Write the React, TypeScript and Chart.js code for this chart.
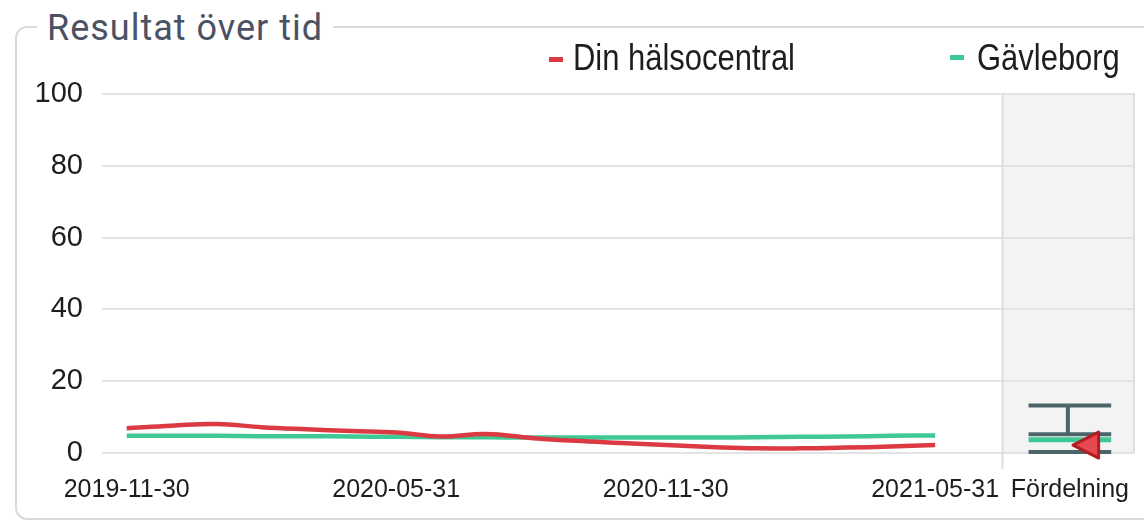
import React, { useEffect, useRef } from 'react';
import { Chart, registerables } from 'chart.js';

Chart.register(...registerables);

// Monthly points, index 0 = 2019-11-30 ... 18 = 2021-05-31
const monthIndex = [0, 1, 2, 3, 4, 5, 6, 7, 8, 9, 10, 11, 12, 13, 14, 15, 16, 17, 18];
const dinHalsocentral = [6.9, 7.6, 8.1, 7.2, 6.6, 6.1, 5.7, 4.6, 5.3, 4.2, 3.4, 2.8, 2.2, 1.7, 1.3, 1.3, 1.5, 1.8, 2.2];
const gavleborg = [4.8, 4.8, 4.8, 4.7, 4.7, 4.6, 4.5, 4.4, 4.4, 4.3, 4.3, 4.3, 4.3, 4.3, 4.4, 4.5, 4.6, 4.8, 4.9];

const xTickValues = [0, 6, 12, 18, 21];
const xTickLabels = ['2019-11-30', '2020-05-31', '2020-11-30', '2021-05-31', 'Fördelning'];
const yTickValues = [0, 20, 40, 60, 80, 100];

// Fördelning (distribution) column
const fordelningPos = 21;
const separatorPos = 19.5;
const fordelningMax = [13.2];
const fordelningQ3 = [5.2];
const fordelningMid = [3.7];
const fordelningMin = [0.3];

const RED = '#dc3a42';
const GREEN = '#3ec893';
const DARK = '#4a6669';

const distPlugin = {
  id: 'distPlugin',
  beforeDraw(chart: any) {
    const { ctx, chartArea, scales } = chart;
    const xs = scales.x;
    const sx = xs.getPixelForValue(separatorPos);
    ctx.save();
    ctx.fillStyle = '#f3f3f3';
    ctx.fillRect(sx, chartArea.top, chartArea.right - sx, chartArea.bottom - chartArea.top);
    ctx.restore();
  },
  afterDraw(chart: any) {
    const { ctx, chartArea, scales } = chart;
    const xs = scales.x;
    const ys = scales.y;
    const sx = xs.getPixelForValue(separatorPos);
    ctx.save();
    ctx.strokeStyle = '#dedede';
    ctx.lineWidth = 2;
    ctx.beginPath();
    ctx.moveTo(sx, chartArea.top);
    ctx.lineTo(sx, chartArea.bottom + 16);
    ctx.moveTo(chartArea.right - 1, chartArea.top);
    ctx.lineTo(chartArea.right - 1, chartArea.bottom);
    ctx.stroke();

    const half = 0.92;
    const xl = xs.getPixelForValue(fordelningPos - half);
    const xr = xs.getPixelForValue(fordelningPos + half);
    const xc = xs.getPixelForValue(fordelningPos) - 2;

    // median / region line
    ctx.strokeStyle = GREEN;
    ctx.lineWidth = 5;
    ctx.beginPath();
    ctx.moveTo(xl, ys.getPixelForValue(fordelningMid[0]));
    ctx.lineTo(xr, ys.getPixelForValue(fordelningMid[0]));
    ctx.stroke();

    ctx.strokeStyle = DARK;
    ctx.lineWidth = 4;
    ctx.beginPath();
    [fordelningMax[0], fordelningQ3[0], fordelningMin[0]].forEach((v) => {
      const y = ys.getPixelForValue(v);
      ctx.moveTo(xl, y);
      ctx.lineTo(xr, y);
    });
    ctx.moveTo(xc, ys.getPixelForValue(fordelningMax[0]));
    ctx.lineTo(xc, ys.getPixelForValue(fordelningQ3[0]));
    ctx.stroke();

    // current value marker (left-pointing triangle)
    const v = dinHalsocentral[dinHalsocentral.length - 1];
    const ty = ys.getPixelForValue(v);
    const tipX = xs.getPixelForValue(fordelningPos + 0.07);
    const baseX = xs.getPixelForValue(fordelningPos + 0.64);
    ctx.fillStyle = '#e54a50';
    ctx.strokeStyle = '#b51c22';
    ctx.lineWidth = 3;
    ctx.lineJoin = 'round';
    ctx.beginPath();
    ctx.moveTo(tipX, ty);
    ctx.lineTo(baseX, ty - 13);
    ctx.lineTo(baseX, ty + 13);
    ctx.closePath();
    ctx.fill();
    ctx.stroke();
    ctx.restore();
  },
};

export default function App() {
  const canvasRef = useRef<HTMLCanvasElement | null>(null);

  useEffect(() => {
    document.body.style.margin = '0';
    const canvas = canvasRef.current;
    if (!canvas) return;
    const chart = new Chart(canvas, {
      type: 'line',
      data: {
        datasets: [
          {
            label: 'Din hälsocentral',
            data: monthIndex.map((m, i) => ({ x: m, y: dinHalsocentral[i] })),
            borderColor: RED,
            backgroundColor: RED,
            borderWidth: 4.5,
            pointRadius: 0,
            tension: 0.4,
          },
          {
            label: 'Gävleborg',
            data: monthIndex.map((m, i) => ({ x: m, y: gavleborg[i] })),
            borderColor: GREEN,
            backgroundColor: GREEN,
            borderWidth: 4.5,
            pointRadius: 0,
            tension: 0.4,
          },
        ],
      },
      options: {
        animation: false,
        responsive: false,
        maintainAspectRatio: false,
        layout: { padding: { top: 94, right: 9, left: 0, bottom: 0 } },
        plugins: { legend: { display: false }, tooltip: { enabled: false } },
        scales: {
          x: {
            type: 'linear',
            min: -0.55,
            max: 22.45,
            afterBuildTicks: (scale: any) => {
              scale.ticks = xTickValues.map((v) => ({ value: v }));
            },
            afterFit: (scale: any) => {
              scale.height = 70;
              scale.paddingLeft = 0;
              scale.paddingRight = 0;
            },
            grid: { display: false, drawTicks: false },
            border: { display: false },
            ticks: {
              autoSkip: false,
              maxRotation: 0,
              padding: 22,
              color: '#1e1e1e',
              font: { family: 'Liberation Sans', size: 25 },
              callback: (value: any) => {
                const i = xTickValues.indexOf(value);
                return i >= 0 ? xTickLabels[i] : '';
              },
            },
          },
          y: {
            min: 0,
            max: 100,
            afterBuildTicks: (scale: any) => {
              scale.ticks = yTickValues.map((v) => ({ value: v }));
            },
            afterFit: (scale: any) => {
              scale.width = 102;
              scale.paddingTop = 0;
              scale.paddingBottom = 0;
            },
            grid: { color: '#e3e3e3', lineWidth: 2, drawTicks: false },
            border: { display: false },
            ticks: {
              padding: 19,
              color: '#1e1e1e',
              font: { family: 'Liberation Sans', size: 29 },
            },
          },
        },
      },
      plugins: [distPlugin],
    });
    return () => chart.destroy();
  }, []);

  const legendText: React.CSSProperties = {
    position: 'absolute',
    top: 40,
    fontFamily: '"Liberation Sans", Arial, sans-serif',
    fontSize: 36,
    lineHeight: '36px',
    color: '#1e1e1e',
    whiteSpace: 'nowrap',
    transform: 'scaleX(0.86)',
    transformOrigin: 'left top',
  };

  return (
    <div style={{ position: 'fixed', left: 0, top: 0, width: 1144, height: 523, background: '#fff', overflow: 'hidden' }}>
      <div
        style={{
          position: 'absolute',
          left: 15,
          top: 26,
          width: 1150,
          height: 494,
          border: '2px solid #dadada',
          borderRadius: 12,
          boxSizing: 'border-box',
        }}
      />
      <div
        style={{
          position: 'absolute',
          left: 37,
          top: 10,
          padding: '0 10px',
          background: '#fff',
          fontFamily: 'Roboto, sans-serif',
          fontSize: 36,
          lineHeight: '36px',
          letterSpacing: '1px',
          color: '#4b5263',
          whiteSpace: 'nowrap',
        }}
      >
        Resultat över tid
      </div>
      <canvas ref={canvasRef} width={1144} height={523} style={{ position: 'absolute', left: 0, top: 0 }} />
      <div style={{ position: 'absolute', left: 549, top: 57, width: 14, height: 5, background: RED }} />
      <div style={{ ...legendText, left: 573 }}>Din hälsocentral</div>
      <div style={{ position: 'absolute', left: 950, top: 55, width: 14, height: 5, background: GREEN }} />
      <div style={{ ...legendText, left: 977 }}>Gävleborg</div>
    </div>
  );
}
